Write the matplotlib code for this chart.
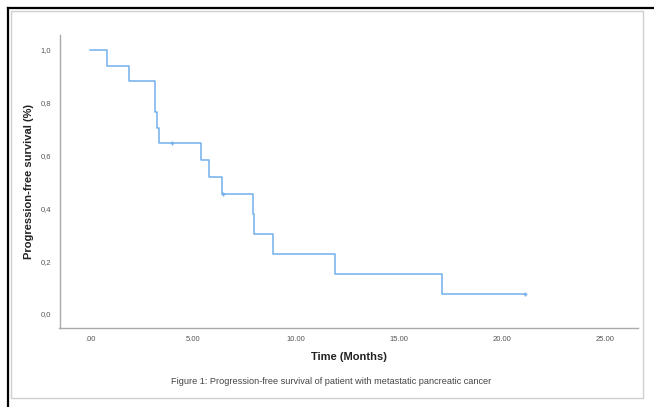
import matplotlib.pyplot as plt
from matplotlib.lines import Line2D
from matplotlib.patches import Rectangle

# Kaplan-Meier steps
step_times = [0.0, 0.83, 1.9, 3.15, 3.25, 3.35, 5.4, 5.8, 6.4, 7.9, 7.95, 8.9, 11.9, 17.1, 21.1]
step_surv = [1.0, 0.941, 0.882, 0.765, 0.706, 0.647, 0.582, 0.518, 0.453, 0.378, 0.302, 0.227, 0.151, 0.076, 0.076]
censor_times = [4.0, 6.45, 21.1]
censor_surv = [0.647, 0.453, 0.076]

x_ticks = [0, 5, 10, 15, 20, 25]
x_labels = [".00", "5.00", "10.00", "15.00", "20.00", "25.00"]
y_ticks = [0.0, 0.2, 0.4, 0.6, 0.8, 1.0]
y_labels = ["0,0", "0,2", "0,4", "0,6", "0,8", "1,0"]

plt.rcParams['font.family'] = ['Liberation Sans', 'DejaVu Sans']

fig = plt.figure(figsize=(6.54, 4.07), dpi=100)
fig.patch.set_facecolor('white')

# frame lines around the figure
fig.add_artist(Line2D([8/654, 8/654], [0, 1 - 8/407], transform=fig.transFigure, color='black', lw=1.6))
fig.add_artist(Line2D([8/654, 1], [1 - 8/407, 1 - 8/407], transform=fig.transFigure, color='black', lw=1.6))
fig.add_artist(Rectangle((11/654, 1 - 398/407), (643 - 11)/654, (398 - 11)/407,
                         transform=fig.transFigure, fill=False, edgecolor='#d0d0d0', lw=1.0))

ax = fig.add_axes([59.5/654, 1 - 328/407, (638 - 59.5)/654, (328 - 35)/407])
line_col = '#74b0ec'
ax.step(step_times, step_surv, where='post', color=line_col, lw=1.1)
ax.plot(censor_times, censor_surv, linestyle='none', marker='+', markersize=3.5,
        markeredgewidth=1.0, color=line_col)

ax.set_xlim(-1.48, 26.6)
ax.set_ylim(-0.053, 1.057)
ax.set_xticks(x_ticks)
ax.set_xticklabels(x_labels)
ax.set_yticks(y_ticks)
ax.set_yticklabels(y_labels)
ax.tick_params(length=0, labelsize=5.5, colors='#555555', pad=6)
for s in ['top', 'right']:
    ax.spines[s].set_visible(False)
for s in ['left', 'bottom']:
    ax.spines[s].set_color('#aaaaaa')
    ax.spines[s].set_linewidth(1.0)

ax.set_xlabel("Time (Months)", fontsize=8, fontweight='bold', labelpad=6, color='#222222')
ax.set_ylabel("Progression-free survival (%)", fontsize=8, fontweight='bold', labelpad=5, color='#222222')

fig.text(331/654, 1 - 381/407, "Figure 1: Progression-free survival of patient with metastatic pancreatic cancer",
         ha='center', va='center', fontsize=6.6, color='#444444')

fig.savefig('out.png', dpi=100)
